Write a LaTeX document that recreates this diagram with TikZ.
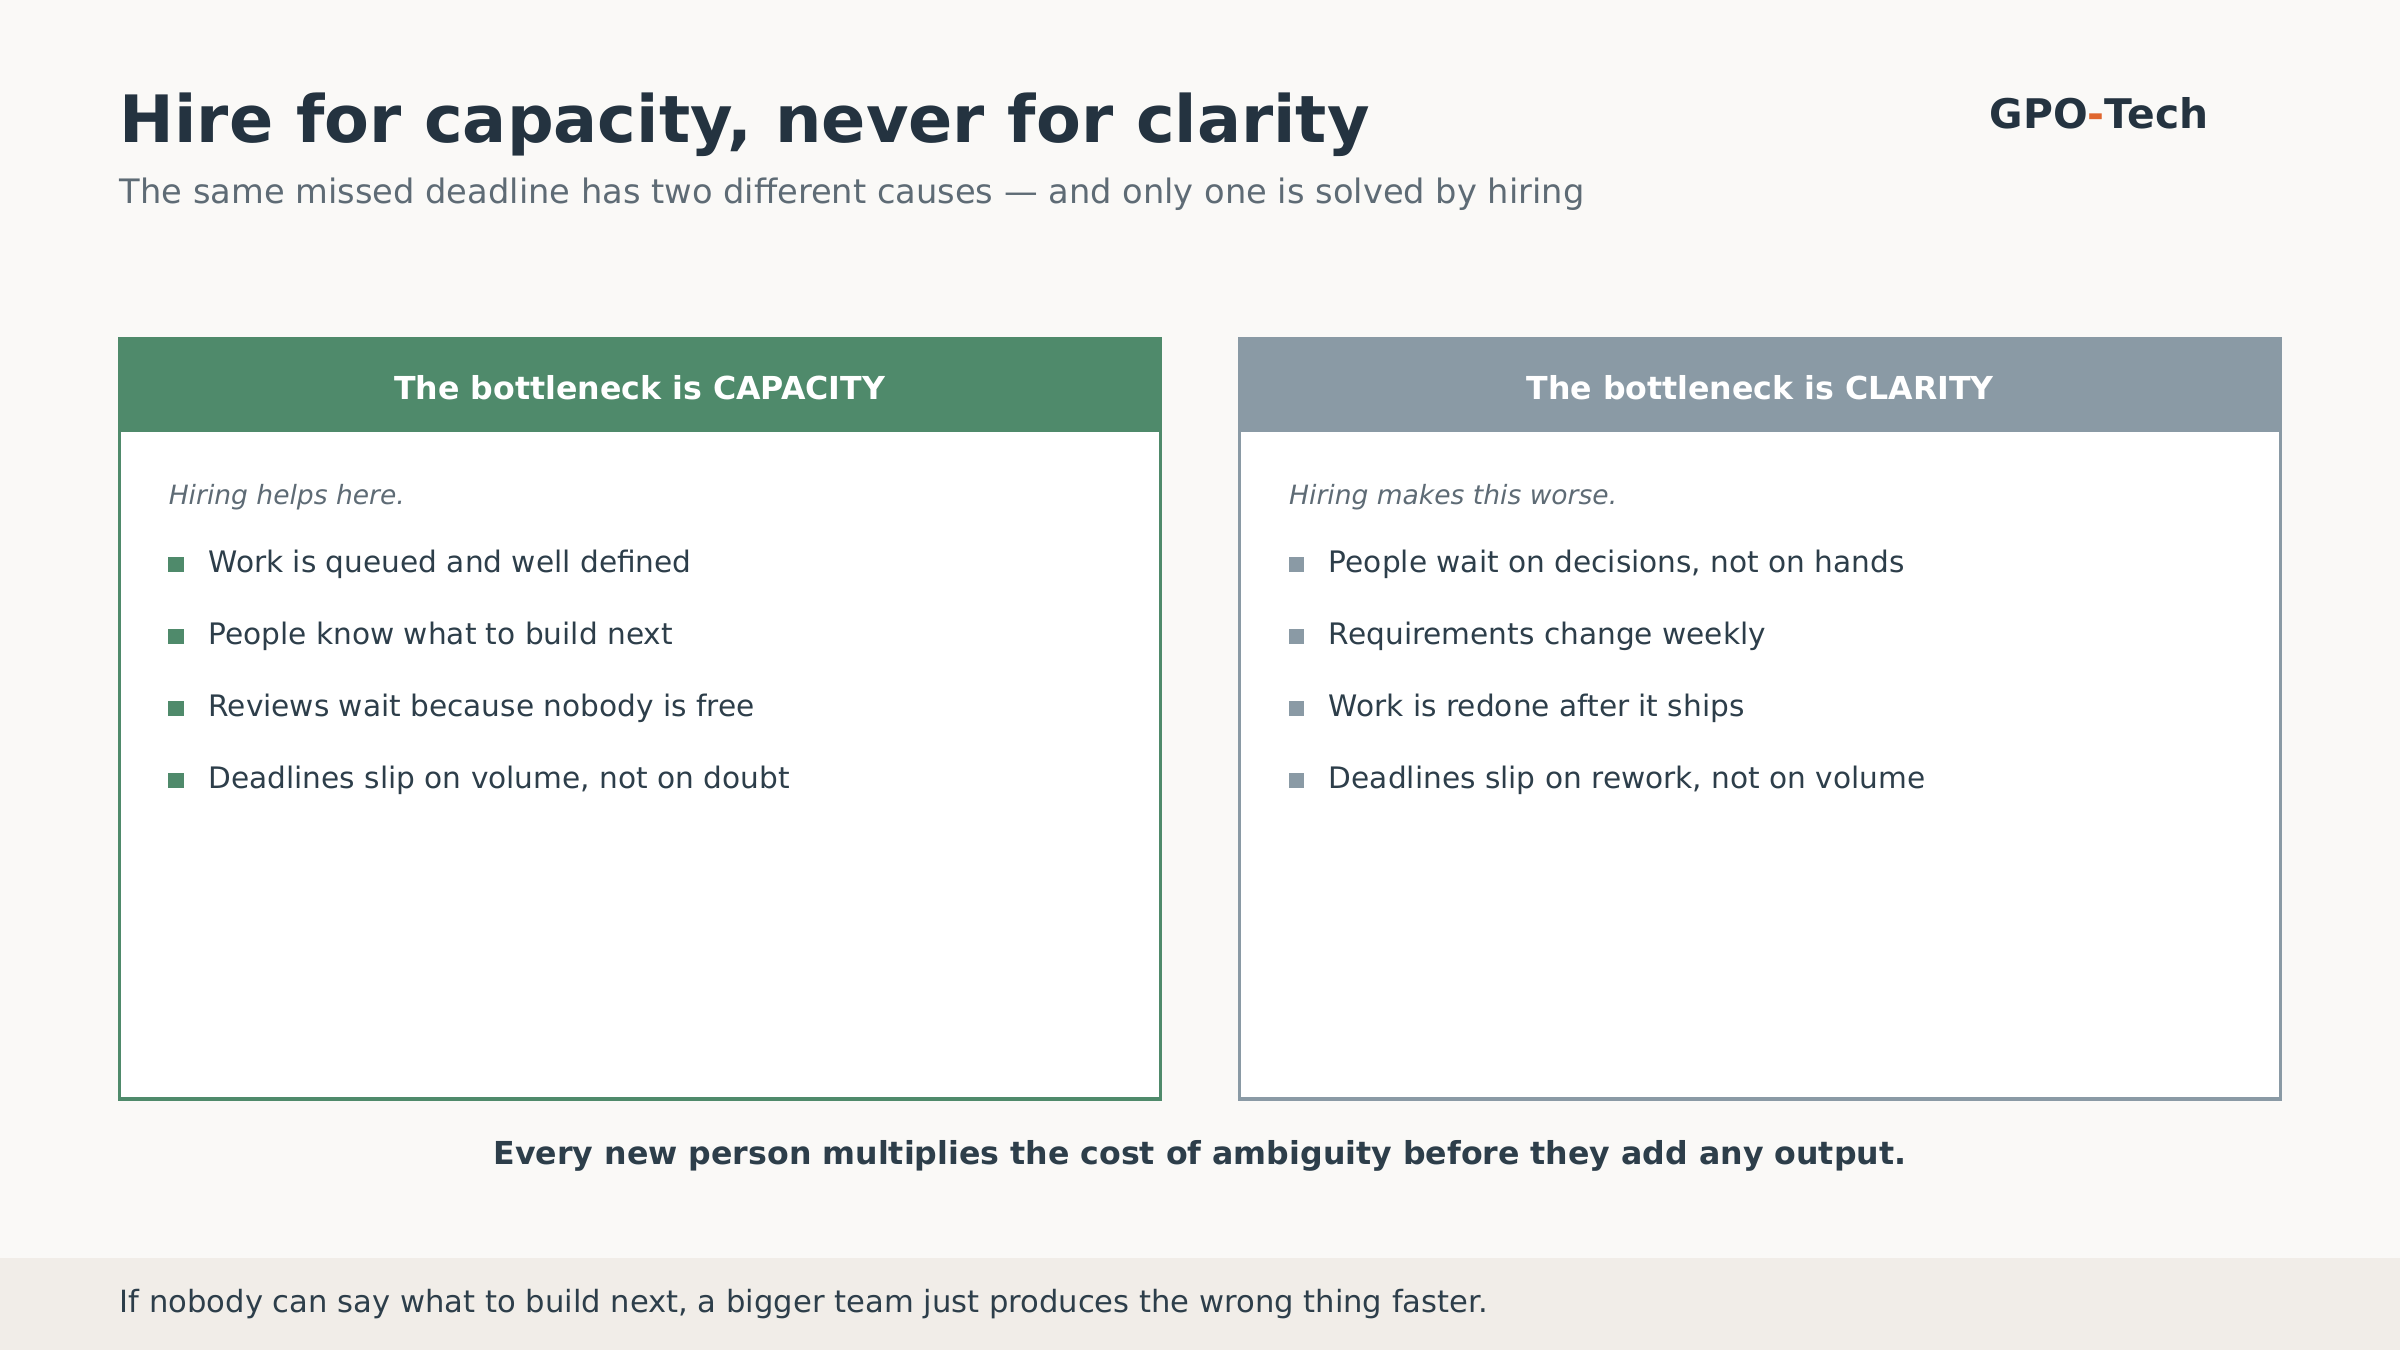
\documentclass[tikz,border=0pt]{standalone}
\usepackage{fontspec}
\setmainfont{DejaVu Sans}
\definecolor{bg}{HTML}{FAF9F7}
\definecolor{grn}{HTML}{4F8A6B}
\definecolor{gry}{HTML}{8A9AA5}
\definecolor{ink}{HTML}{243340}
\definecolor{txt}{HTML}{2D3E4A}
\definecolor{sub}{HTML}{5E6B75}
\definecolor{band}{HTML}{F1EDE8}
\definecolor{org}{HTML}{E0662E}
\begin{document}
\begin{tikzpicture}[x=0.75pt,y=-0.75pt,
  bul/.style={anchor=west,font=\fontsize{14.5}{17}\selectfont,text=txt,inner sep=0},
  hd/.style={font=\bfseries\fontsize{15.5}{18}\selectfont,text=white,inner sep=0},
  it/.style={anchor=west,font=\itshape\fontsize{13}{15}\selectfont,text=sub,inner sep=0}]
\fill[bg] (0,0) rectangle (1568,882);
\useasboundingbox (0,0) rectangle (1568,882);
\node[anchor=base west,inner sep=0,font=\bfseries\fontsize{32}{38}\selectfont,text=ink] (title) at (78,93) {Hire for capacity, never for clarity};
\node[anchor=base west,inner sep=0,font=\fontsize{16.5}{20}\selectfont,text=sub] (subt) at (78,133) {The same missed deadline has two different causes — and only one is solved by hiring};
\node[anchor=base east,inner sep=0,font=\bfseries\fontsize{20}{24}\selectfont,text=ink] (logo) at (1443,84) {GPO\textcolor{org}{-}Tech};
% left
\draw[grn,line width=1.5pt,fill=white] (78,221) rectangle (758,718);
\fill[grn] (78,221) rectangle (758,282);
\node[hd] (lh) at (418,253) {The bottleneck is CAPACITY};
\node[it] (li) at (110,325) {Hiring helps here.};
\foreach \y/\t [count=\i] in {369/Work is queued and well defined,416/People know what to build next,463/Reviews wait because nobody is free,510/{Deadlines slip on volume, not on doubt}}{
  \fill[grn] (110,\y-5) rectangle (120,\y+5);
  \node[bul] (l\i) at (136,\y) {\t};}
% right
\draw[gry,line width=1.5pt,fill=white] (810,221) rectangle (1490,718);
\fill[gry] (810,221) rectangle (1490,282);
\node[hd] (rh) at (1150,253) {The bottleneck is CLARITY};
\node[it] (ri) at (842,325) {Hiring makes this worse.};
\foreach \y/\t [count=\i] in {369/{People wait on decisions, not on hands},416/Requirements change weekly,463/Work is redone after it ships,510/{Deadlines slip on rework, not on volume}}{
  \fill[gry] (842,\y-5) rectangle (852,\y+5);
  \node[bul] (r\i) at (868,\y) {\t};}
\node[inner sep=0,font=\bfseries\fontsize{15.5}{18}\selectfont,text=txt] (concl) at (784,755) {Every new person multiplies the cost of ambiguity before they add any output.};
\fill[band] (0,822) rectangle (1568,882);
\node[anchor=west,inner sep=0,font=\fontsize{15}{18}\selectfont,text=txt] (foot) at (78,852) {If nobody can say what to build next, a bigger team just produces the wrong thing faster.};
\end{tikzpicture}
\end{document}
